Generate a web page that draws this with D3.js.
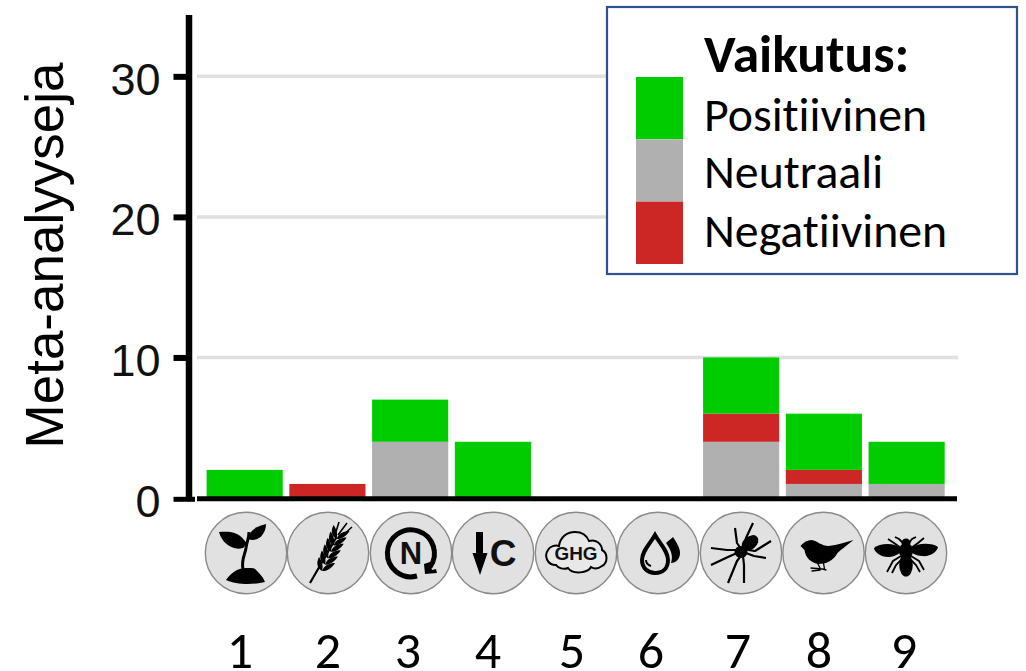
<!DOCTYPE html>
<html><head><meta charset="utf-8">
<script src="https://cdnjs.cloudflare.com/ajax/libs/d3/7.8.5/d3.min.js"></script>
<style>html,body{margin:0;padding:0;background:#fff}svg{display:block}text{font-variant-ligatures:none}</style>
</head><body><svg id="c" width="1026" height="671"></svg>
<script>
const categories = ["1","2","3","4","5","6","7","8","9"];
const neutraali =    [0,0,4,0,0,0,4,1,1];
const negatiivinen = [0,1,0,0,0,0,2,1,0];
const positiivinen = [2,0,3,4,0,0,4,4,3];
const yTicks = [0,10,20,30];
const labelX = [240,328,408,488,572,651,738,819,904];
const seriesNames = ["Neutraali","Negatiivinen","Positiivinen"];
const legendNames = ["Positiivinen","Neutraali","Negatiivinen"];
const colors = {Positiivinen:"#00cc00",Neutraali:"#b0b0b0",Negatiivinen:"#cc2724"};
const TXT = "Carlito, Lato, 'Open Sans', sans-serif";
const ARIAL = "'Liberation Sans', Arial, sans-serif";

const svg = d3.select("#c");
const y = d3.scaleLinear().domain([0,34.4]).range([498,14.5]);
const x = d3.scaleBand().domain(categories).range([203.3,948]).paddingInner(0.08).paddingOuter(0.04);

svg.append("g").selectAll("line").data(yTicks.slice(1)).join("line")
  .attr("x1",197).attr("x2",958).attr("y1",d=>y(d)).attr("y2",d=>y(d))
  .attr("stroke","#e0e0e0").attr("stroke-width",3.5);

const rows = categories.map((c,i)=>({c,Neutraali:neutraali[i],Negatiivinen:negatiivinen[i],Positiivinen:positiivinen[i]}));
const stacked = d3.stack().keys(seriesNames)(rows);
svg.append("g").selectAll("g").data(stacked).join("g").attr("fill",s=>colors[s.key])
  .selectAll("rect").data(s=>s).join("rect")
  .attr("x",d=>x(d.data.c)).attr("width",x.bandwidth())
  .attr("y",d=>y(d[1])).attr("height",d=>y(d[0])-y(d[1]));

svg.append("line").attr("x1",197).attr("x2",957).attr("y1",y(0)+0.8).attr("y2",y(0)+0.8).attr("stroke","#000").attr("stroke-width",5);

const ax = svg.append("g").attr("transform","translate(188.5,0)").call(d3.axisLeft(y).tickValues(yTicks).tickSize(15).tickSizeOuter(0).tickPadding(13));
ax.select(".domain").attr("stroke","#000").attr("stroke-width",6.5);
ax.selectAll(".tick line").attr("stroke","#000").attr("stroke-width",6).attr("x1",0).attr("x2",-15);
ax.selectAll(".tick text").attr("fill","#111").style("font-family",ARIAL).style("font-size","45px").attr("dy","0.4em").attr("x",-28);
ax.selectAll(".tick").filter(d=>d===0).select("line").attr("x1",6.5).attr("x2",-15).attr("y1",0.8).attr("y2",0.8).attr("stroke-width",5);

svg.append("text").attr("transform","translate(63,255.5) rotate(-90)").attr("text-anchor","middle")
  .style("font-family",ARIAL).style("font-size","53px").text("Meta-analyyseja");

const cx = [246,328,411,493,576,658,741,823.5,906];
const iconG = svg.append("g").selectAll("g").data(categories).join("g").attr("transform",(d,i)=>`translate(${cx[i]},553)`);
iconG.append("circle").attr("r",40.7).attr("fill","#e1e1e1").attr("stroke","#8a8a8a").attr("stroke-width",1.4);
const icon = i => iconG.filter((d,j)=>j===i);

const a = icon(0);
a.append("path").attr("d","M-20 27C-15 20-9 15 0 15C4 15 9 14 11 18C14 21 17 24 19 29C8 32-10 32-20 27Z");
a.append("path").attr("d","M-3 17C-5 6 -1 2 0 -5C1 -12 3 -15 3 -21").attr("fill","none").attr("stroke","#000").attr("stroke-width",3);
a.append("path").attr("d","M1 -9C-6 -21-15 -22-27 -21C-24 -10-14 -2-3 -5Z");
a.append("path").attr("d","M2 -14C4 -24 12 -27 20 -29C20 -20 13 -10 2 -14Z");

const b = icon(1);
b.append("path").attr("d","M-18 30L8 -15").attr("stroke","#000").attr("stroke-width",2.2).attr("fill","none");
d3.range(0,6).forEach(k=>{
  const px=-6+k*2.9, py=18-k*6.4;
  b.append("path").attr("d",`M${px} ${py}C${px-5} ${py-3} ${px-6} ${py-8} ${px-3} ${py-14}C${px+0} ${py-10} ${px+1.5} ${py-5} ${px} ${py}Z`);
  b.append("path").attr("d",`M${px} ${py}C${px+5} ${py+0.5} ${px+10} ${py-3} ${px+13} ${py-8}C${px+8} ${py-8} ${px+2} ${py-6} ${px} ${py}Z`);
});
b.append("path").attr("d","M7 -18L11 -31M10 -18L19 -30M13 -16L24 -26").attr("stroke","#000").attr("stroke-width",1.6).attr("fill","none");

const c = icon(2);
c.append("path").attr("d","M6 23A23.5 23.5 0 1 1 19 14").attr("fill","none").attr("stroke","#000").attr("stroke-width",5);
c.append("path").attr("d","M13 11L14 21L26 20L25 16L21 17L19 9Z");
c.append("text").attr("text-anchor","middle").attr("y",11).style("font-family",ARIAL).style("font-weight","bold").style("font-size","31px").attr("fill","#111").text("N");

const e = icon(3);
e.append("path").attr("d","M-17 -21H-10V0H-5.5L-13 22L-20.5 0H-17Z");
e.append("text").attr("text-anchor","middle").attr("x",10).attr("y",13).style("font-family",ARIAL).style("font-weight","bold").style("font-size","37px").attr("fill","#111").text("C");

const f = icon(4);
f.append("path").attr("d","M-20 12C-29 12-32 3-28 -3C-26 -7-21 -8-17 -7C-16 -15-10 -21-1 -21C6 -21 11 -17 13 -12C20 -14 26 -9 26 -3C32 0 32 10 26 13C22 16 18 16 15 14C12 20-3 22-8 15C-12 17-18 15-20 12Z").attr("fill","#e8e8e8").attr("stroke","#000").attr("stroke-width",2);
f.append("text").attr("text-anchor","middle").attr("y",6.5).style("font-family",ARIAL).style("font-weight","bold").style("font-size","18px").attr("fill","#111").attr("textLength",43).attr("lengthAdjust","spacingAndGlyphs").text("GHG");

const g = icon(5);
g.append("path").attr("d","M-3 -18C-8 -9-16 -2-16 7C-16 15-10 20-3 20C5 20 10 15 10 7C10 -2 2 -9-3 -18Z").attr("fill","none").attr("stroke","#000").attr("stroke-width",4);
g.append("path").attr("d","M-12 7C-12 10-10 12-7 13").attr("fill","none").attr("stroke","#000").attr("stroke-width",2);
g.append("path").attr("d","M15 -16C19 -10 22 -5 22 0C22 6 18 10 13 10C15 4 14 -2 8 -10C10 -12 13 -14 15 -16Z");

const h = icon(6);
h.append("ellipse").attr("cx",9).attr("cy",-10).attr("rx",9.5).attr("ry",6.5).attr("transform","rotate(-40 9 -10)");
h.append("ellipse").attr("cx",0).attr("cy",-1).attr("rx",6.5).attr("ry",6);
h.append("path").attr("fill","none").attr("stroke","#000").attr("stroke-width",2.2).attr("stroke-linejoin","round")
 .attr("d","M0 -4L-4 -10L-6 -25M3 -8L5 -15L12 -30M7 -3L14 -2L30 -12M5 0L13 3L25 5M2 3L3 12L3 30M-1 4L-4 8L-13 30M-4 0L-13 4L-30 12M-3 -3L-14 -3L-30 -5");

const k = icon(7);
k.append("path").attr("d","M-23 -7C-20 -11-16 -13-12 -13C-6 -12-2 -7 5 -7C14 -8 22 -11 30 -13C24 -8 18 -4 14 0C10 8 2 11-5 11C-12 10-18 5-19 -3Z");
k.append("path").attr("d","M-6 10L-3 16M0 10L1 16M-13 15L-1 16L3 17M-12 18L-3 17").attr("fill","none").attr("stroke","#000").attr("stroke-width",1.3);

const m = icon(8);
m.append("circle").attr("cy",-10).attr("r",4.5);
m.append("ellipse").attr("cy",-2).attr("rx",7).attr("ry",8);
m.append("ellipse").attr("cy",12).attr("rx",6.8).attr("ry",11.5);
m.append("path").attr("d","M-3 -4C-12 -11-26 -10-32 -5C-32 -1-24 5-16 4C-10 3-5 0-3 -4Z");
m.append("path").attr("d","M3 -4C12 -11 26 -10 32 -6C31 -1 24 4 16 3C10 3 5 0 3 -4Z");
m.append("path").attr("fill","none").attr("stroke","#000").attr("stroke-width",1.8)
 .attr("d","M-5 -5L-12 -10L-18 -14M5 -5L12 -10L18 -15M-3 -10L-7 -14L-11 -16M3 -10L6 -14L10 -16M-5 3L-13 8L-19 19M5 3L13 8L18 17M-5 7L-10 12L-14 20M5 7L10 12L14 19");

svg.append("g").selectAll("text").data(categories).join("text")
  .attr("x",(d,i)=>labelX[i]).attr("y",668).attr("text-anchor","middle")
  .style("font-family",TXT).style("font-size","52px").text(d=>d);

svg.append("rect").attr("x",607).attr("y",7).attr("width",410).attr("height",267).attr("fill","#fff").attr("stroke","#2f528f").attr("stroke-width",2.2);
const swY = d3.scaleBand().domain(legendNames).range([77,264]);
svg.append("g").selectAll("rect").data(legendNames).join("rect")
  .attr("x",636).attr("width",47).attr("y",d=>swY(d)).attr("height",swY.bandwidth()).attr("fill",d=>colors[d]);
const legY = [131,188,247];
svg.append("g").selectAll("text").data(legendNames).join("text")
  .attr("x",704).attr("y",(d,i)=>legY[i]).style("font-family",TXT).style("font-size","47.8px").text(d=>d);
svg.append("text").attr("x",704).attr("y",72).style("font-family",TXT).style("font-weight","bold").style("font-size","53.5px").text("Vaikutus:");
</script></body></html>
